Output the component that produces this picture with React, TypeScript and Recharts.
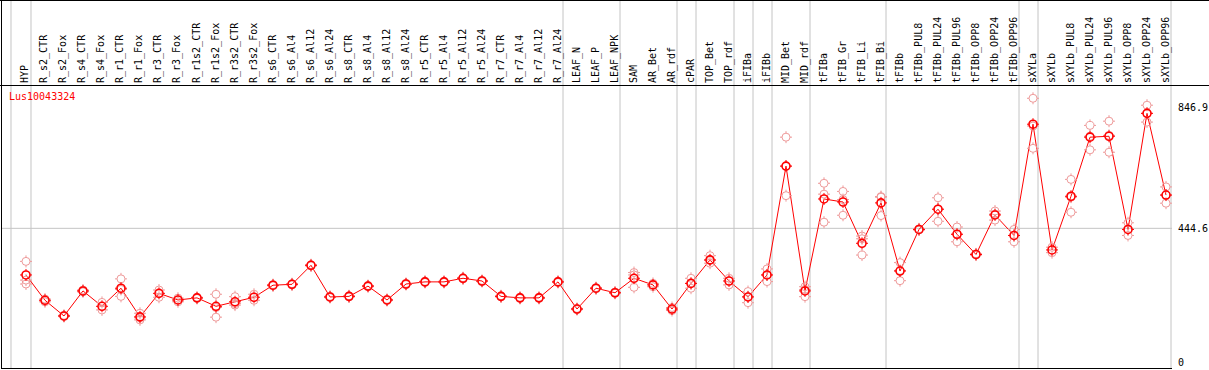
import React from "react";
import { ComposedChart, Line, XAxis, YAxis, ReferenceLine } from "recharts";

const geneId = "Lus10043324";

const categories = [
  "HYP", "R_s2_CTR", "R_s2_Fox", "R_s4_CTR", "R_s4_Fox", "R_r1_CTR", "R_r1_Fox",
  "R_r3_CTR", "R_r3_Fox", "R_r1s2_CTR", "R_r1s2_Fox", "R_r3s2_CTR", "R_r3s2_Fox",
  "R_s6_CTR", "R_s6_Al4", "R_s6_Al12", "R_s6_Al24", "R_s8_CTR", "R_s8_Al4",
  "R_s8_Al12", "R_s8_Al24", "R_r5_CTR", "R_r5_Al4", "R_r5_Al12", "R_r5_Al24",
  "R_r7_CTR", "R_r7_Al4", "R_r7_Al12", "R_r7_Al24", "LEAF_N", "LEAF_P", "LEAF_NPK",
  "SAM", "AR_Bet", "AR_rdf", "cPAR", "TOP_Bet", "TOP_rdf", "iFIBa", "iFIBb",
  "MID_Bet", "MID_rdf", "tFIBa", "tFIB_Gr", "tFIB_Li", "tFIB_Bi", "tFIBb",
  "tFIBb_PUL8", "tFIBb_PUL24", "tFIBb_PUL96", "tFIBb_OPP8", "tFIBb_OPP24",
  "tFIBb_OPP96", "sXYLa", "sXYLb", "sXYLb_PUL8", "sXYLb_PUL24", "sXYLb_PUL96",
  "sXYLb_OPP8", "sXYLb_OPP24", "sXYLb_OPP96",
];

// mean expression per sample
const means = [
  290, 206, 154, 237, 186, 246, 151, 229, 207, 214, 186, 201, 216,
  256, 259, 322, 217, 219, 253, 207, 260, 267, 267, 279, 270,
  219, 214, 214, 267, 177, 246, 231, 279, 257, 177, 262, 340, 270, 217, 290,
  651, 237, 542, 532, 395, 529, 303, 441, 508, 425, 358, 489, 421,
  790, 373, 551, 747, 750, 441, 826, 555,
];

// biological replicates (null = no third replicate)
const rep1 = [
  335, 210, 156, 240, 199, 277, 163, 240, 213, 216, 226, 218, 226,
  258, 261, 324, 219, 221, 255, 209, 262, 269, 269, 281, 272,
  221, 216, 216, 269, 179, 248, 233, 298, 262, 182, 279, 354, 279, 235, 310,
  747, 251, 594, 567, 419, 550, 331, 443, 546, 449, 360, 502, 441,
  876, 382, 607, 786, 800, 463, 853, 582,
];
const rep2 = [
  273, 201, 152, 234, 174, 242, 148, 216, 201, 212, 182, 195, 206,
  254, 257, 320, 215, 217, 251, 205, 258, 265, 265, 277, 268,
  217, 212, 212, 265, 175, 244, 229, 290, 251, 172, 262, 338, 257, 218, 290,
  651, 242, 558, 540, 410, 548, 305, 439, 508, 425, 356, 492, 421,
  784, 364, 548, 750, 753, 441, 826, 555,
];
const rep3 = [
  260, null, null, null, null, 219, 141, null, null, null, 150, 190, null,
  null, null, null, null, null, null, null, null, null, null, null, null,
  null, null, null, null, null, null, null, 249, null, null, 246, 329, null, 198, 268,
  553, 218, 465, 488, 356, 487, 271, null, 468, 400, null, 472, 400,
  710, null, 498, 705, 697, 421, 797, 528,
];

// last sample of each tissue group (gray separators)
const groupEnds = [
  "HYP", "R_r7_Al24", "LEAF_NPK", "AR_rdf", "cPAR", "TOP_rdf", "iFIBa", "iFIBb",
  "MID_rdf", "tFIB_Bi", "tFIBb_OPP96", "sXYLa", "sXYLb_OPP96",
];

const yTicks = [0, 444.6, 846.9];

const W = 1209;
const H = 370;
const HEADER = 86;
const PLOT_BOTTOM = 368;
const Y_MIN = -18.6;
const Y_MAX = 916.7;
const Y_TOP_PAGE = Y_MAX + (HEADER * (Y_MAX - Y_MIN)) / (PLOT_BOTTOM - HEADER);

const RED = "#ff0000";
const PINK = "#ee9a9a";
const GRID = "#c4c4c4";
const FONT = "'DejaVu Sans Mono', monospace";

const data = categories.map((name, i) => ({
  i,
  name,
  mean: means[i],
  r1: rep1[i],
  r2: rep2[i],
  r3: rep3[i],
}));

const separators = [-0.79, ...groupEnds.map((n) => categories.indexOf(n) + 5 / 19)];

function makeDot(color: string, width: number) {
  return (props: any) => {
    const { cx, cy, index } = props;
    if (cx == null || cy == null || isNaN(cy)) return <g key={`d${index}`} />;
    return (
      <g key={`d${index}`}>
        <circle cx={cx} cy={cy} r={4} fill="none" stroke={color} strokeWidth={width} />
        <path
          d={`M${cx} ${cy - 6}V${cy - 4}M${cx} ${cy + 4}V${cy + 6}M${cx - 6} ${cy}H${cx - 4}M${cx + 4} ${cy}H${cx + 6}`}
          stroke={color}
          strokeWidth={1}
        />
      </g>
    );
  };
}

const HeaderTick = (props: any) => {
  const { x, y, payload } = props;
  return (
    <text
      x={x - 1}
      y={y}
      transform={`rotate(-90 ${x - 1} ${y})`}
      textAnchor="start"
      dominantBaseline="central"
      fontFamily={FONT}
      fontSize={10}
      fill="#000"
    >
      {categories[payload.value]}
    </text>
  );
};

export default function App() {
  return (
    <div style={{ position: "absolute", left: 0, top: 0, width: W, height: H, background: "#fff" }}>
      <ComposedChart
        width={W}
        height={H}
        data={data}
        margin={{ top: 0, right: 0, bottom: H - PLOT_BOTTOM, left: 2 }}
      >
        <XAxis
          dataKey="i"
          type="number"
          orientation="top"
          domain={[-1.263, 60.315]}
          allowDataOverflow
          ticks={categories.map((_, i) => i)}
          interval={0}
          height={HEADER}
          axisLine={false}
          tickLine={false}
          tickSize={0}
          tickMargin={3}
          tick={<HeaderTick />}
        />
        <YAxis
          orientation="right"
          width={37}
          domain={[Y_MIN, Y_MAX]}
          allowDataOverflow
          ticks={yTicks}
          interval={0}
          axisLine={false}
          tickLine={false}
          tickSize={0}
          tickMargin={6}
          tick={{ fontFamily: FONT, fontSize: 10, fill: "#000", textAnchor: "start" }}
          tickFormatter={(v) => String(v)}
        />
        <ReferenceLine y={444.6} stroke={GRID} strokeWidth={1} />
        {separators.map((sx, k) => (
          <ReferenceLine
            key={k}
            ifOverflow="visible"
            segment={[
              { x: sx, y: Y_TOP_PAGE },
              { x: sx, y: Y_MIN },
            ]}
            stroke={GRID}
            strokeWidth={1}
          />
        ))}
        {(["r1", "r2", "r3"] as const).map((k) => (
          <Line
            key={k}
            dataKey={k}
            stroke="none"
            dot={makeDot(PINK, 1)}
            activeDot={false}
            isAnimationActive={false}
            legendType="none"
          />
        ))}
        <Line
          dataKey="mean"
          stroke={RED}
          strokeWidth={1}
          dot={makeDot(RED, 1.6)}
          activeDot={false}
          isAnimationActive={false}
        />
      </ComposedChart>
      <div style={{ position: "absolute", left: 0, top: 0, width: W, height: 1, background: "#000" }} />
      <div style={{ position: "absolute", left: 1, top: 0, width: 1, height: PLOT_BOTTOM + 1, background: "#000" }} />
      <div style={{ position: "absolute", left: 0, top: HEADER - 1, width: W, height: 1, background: "#000" }} />
      <div style={{ position: "absolute", left: 1, top: PLOT_BOTTOM, width: 1171, height: 1, background: "#000" }} />
      <div
        style={{
          position: "absolute",
          left: 9,
          top: 91,
          fontFamily: FONT,
          fontSize: 10,
          lineHeight: "12px",
          color: RED,
        }}
      >
        {geneId}
      </div>
    </div>
  );
}
